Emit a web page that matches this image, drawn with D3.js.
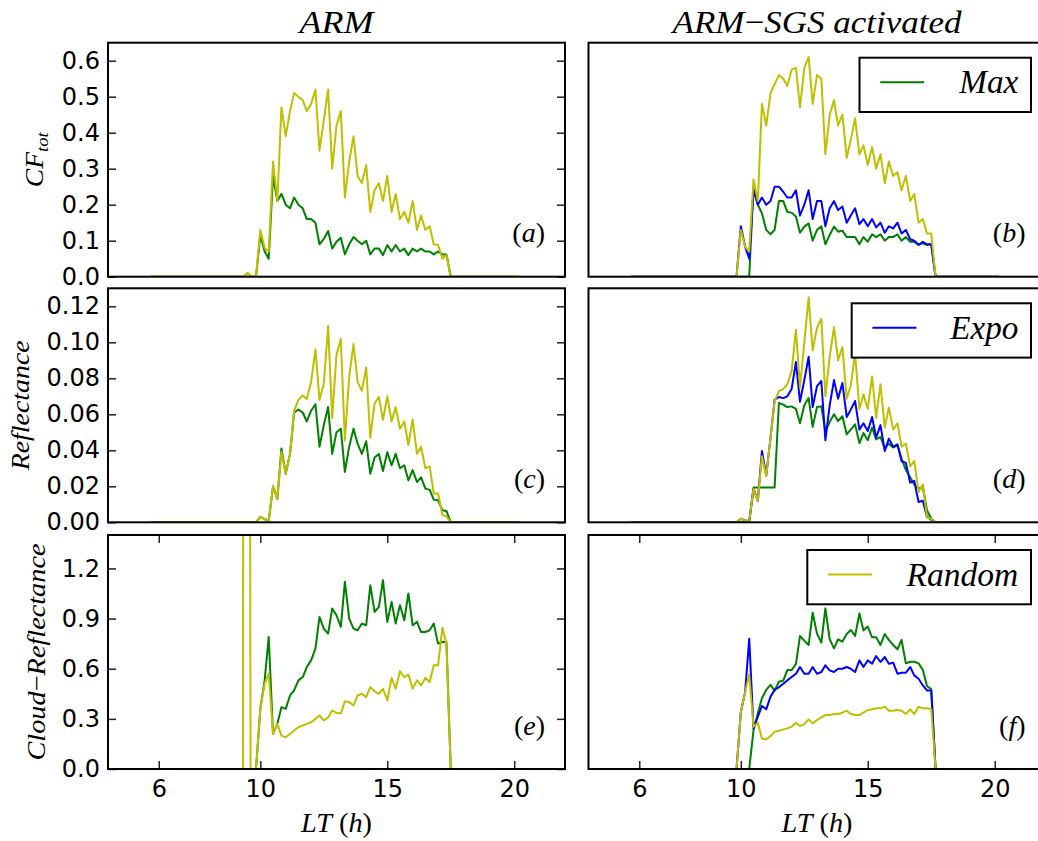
<!DOCTYPE html>
<html>
<head>
<meta charset="utf-8">
<script src="https://cdn.jsdelivr.net/npm/d3@7"></script>
<style>
  body { margin: 0; background: #fff; }
  .math { font-family: "Liberation Serif", serif; fill: #000; }
</style>
</head>
<body>
<div id="chart-area"></div>
<script>
// local time (h): 5:40, then every 10 min from 9:00 to 18:00, then 20:10
const lt = [5.67,
  9.00, 9.17, 9.33, 9.50, 9.67, 9.83,
  10.00, 10.17, 10.33, 10.50, 10.67, 10.83,
  11.00, 11.17, 11.33, 11.50, 11.67, 11.83,
  12.00, 12.17, 12.33, 12.50, 12.67, 12.83,
  13.00, 13.17, 13.33, 13.50, 13.67, 13.83,
  14.00, 14.17, 14.33, 14.50, 14.67, 14.83,
  15.00, 15.17, 15.33, 15.50, 15.67, 15.83,
  16.00, 16.17, 16.33, 16.50, 16.67, 16.83,
  17.00, 17.17, 17.33, 17.50, 17.67, 17.83,
  18.00,
  20.17];

// ---- total cloud fraction ----
const armMaxCF = [0,
  0, 0, 0, 0, 0, 0,
  0.115, 0.07, 0.05, 0.28, 0.21, 0.23,
  0.20, 0.19, 0.22, 0.20, 0.19, 0.16,
  0.16, 0.15, 0.09, 0.105, 0.127, 0.078,
  0.097, 0.108, 0.062, 0.09, 0.11, 0.10,
  0.09, 0.10, 0.062, 0.078, 0.078, 0.06,
  0.088, 0.07, 0.088, 0.07, 0.078, 0.06,
  0.078, 0.07, 0.078, 0.07, 0.07, 0.062,
  0.07, 0.062, 0.062, 0, 0, 0,
  0,
  0];
const armRandomCF = [0,
  0, 0, 0, 0.011, 0, 0,
  0.13, 0.08, 0.07, 0.32, 0.21, 0.47,
  0.39, 0.46, 0.51, 0.50, 0.49, 0.46,
  0.48, 0.52, 0.35, 0.435, 0.52, 0.30,
  0.42, 0.46, 0.22, 0.32, 0.39, 0.28,
  0.26, 0.31, 0.18, 0.24, 0.26, 0.21,
  0.28, 0.18, 0.23, 0.16, 0.18, 0.15,
  0.21, 0.13, 0.17, 0.13, 0.14, 0.09,
  0.088, 0.05, 0.06, 0, 0, 0,
  0,
  0];
const sgsMaxCF = [0,
  0, 0, 0, 0, 0, 0,
  0, 0, 0, 0.25, 0.20, 0.176,
  0.13, 0.118, 0.13, 0.21, 0.21, 0.18,
  0.178, 0.167, 0.122, 0.139, 0.148, 0.10,
  0.13, 0.14, 0.09, 0.116, 0.139, 0.125,
  0.128, 0.11, 0.11, 0.11, 0.09, 0.11,
  0.097, 0.118, 0.11, 0.118, 0.10, 0.11,
  0.11, 0.118, 0.10, 0.11, 0.097, 0.097,
  0.09, 0.093, 0.088, 0.09, 0, 0,
  0,
  0];
const sgsExpoCF = [0,
  0, 0, 0, 0, 0, 0,
  0.14, 0.083, 0.05, 0.24, 0.20, 0.22,
  0.20, 0.21, 0.25, 0.25, 0.236, 0.22,
  0.22, 0.24, 0.17, 0.20, 0.24, 0.16,
  0.21, 0.21, 0.14, 0.19, 0.21, 0.185,
  0.195, 0.15, 0.17, 0.19, 0.146, 0.16,
  0.14, 0.16, 0.137, 0.15, 0.122, 0.14,
  0.134, 0.15, 0.12, 0.13, 0.104, 0.10,
  0.088, 0.097, 0.09, 0.09, 0, 0,
  0,
  0];
const sgsRandomCF = [0,
  0, 0, 0, 0, 0, 0,
  0.13, 0.083, 0.07, 0.27, 0.21, 0.48,
  0.42, 0.51, 0.535, 0.56, 0.55, 0.53,
  0.575, 0.58, 0.47, 0.58, 0.61, 0.48,
  0.56, 0.55, 0.34, 0.45, 0.49, 0.42,
  0.45, 0.33, 0.38, 0.44, 0.34, 0.365,
  0.31, 0.36, 0.30, 0.34, 0.26, 0.32,
  0.28, 0.29, 0.24, 0.28, 0.21, 0.23,
  0.15, 0.16, 0.12, 0.12, 0, 0,
  0,
  0];

// ---- reflectance ----
const armMaxRef = [0,
  0, 0, 0, 0, 0, 0,
  0.003, 0.0017, 0.001, 0.020, 0.013, 0.041,
  0.027, 0.038, 0.061, 0.0626, 0.061, 0.056,
  0.062, 0.0656, 0.042, 0.054, 0.064, 0.038,
  0.050, 0.052, 0.028, 0.042, 0.052, 0.0437,
  0.038, 0.045, 0.027, 0.036, 0.038, 0.0285,
  0.039, 0.0317, 0.038, 0.030, 0.0317, 0.0233,
  0.029, 0.0224, 0.025, 0.0187, 0.018, 0.0126,
  0.0122, 0.0067, 0.0063, 0, 0, 0,
  0,
  0];
const armRandomRef = [0,
  0, 0, 0, 0, 0, 0,
  0.003, 0.0017, 0.001, 0.020, 0.013, 0.039,
  0.027, 0.038, 0.062, 0.068, 0.0705, 0.0685,
  0.078, 0.096, 0.068, 0.077, 0.109, 0.058,
  0.093, 0.102, 0.0455, 0.081, 0.099, 0.078,
  0.073, 0.086, 0.047, 0.066, 0.0696, 0.057,
  0.070, 0.056, 0.064, 0.052, 0.056, 0.043,
  0.057, 0.038, 0.042, 0.030, 0.031, 0.016,
  0.016, 0.004, 0.0033, 0, 0, 0,
  0,
  0];
const sgsMaxRef = [0,
  0, 0, 0, 0, 0, 0,
  0, 0, 0, 0.0193, 0.0193, 0.0193,
  0.0193, 0.0193, 0.0193, 0.0663, 0.0654, 0.064,
  0.0644, 0.063, 0.055, 0.065, 0.069, 0.053,
  0.064, 0.0644, 0.0507, 0.0557, 0.060, 0.0563,
  0.0589, 0.0489, 0.0515, 0.0544, 0.044, 0.0496,
  0.0456, 0.0526, 0.046, 0.0474, 0.041, 0.0437,
  0.0415, 0.0428, 0.0354, 0.029, 0.025, 0.021,
  0.0187, 0.0196, 0.0067, 0.002, 0, 0,
  0,
  0];
const sgsExpoRef = [0,
  0, 0, 0, 0, 0, 0,
  0.002, 0.001, 0.0007, 0.0187, 0.012, 0.0396,
  0.026, 0.047, 0.068, 0.0696, 0.069, 0.070,
  0.074, 0.089, 0.067, 0.079, 0.092, 0.064,
  0.0756, 0.0785, 0.0456, 0.065, 0.079, 0.0687,
  0.0774, 0.0585, 0.0626, 0.0674, 0.0515, 0.055,
  0.0507, 0.0585, 0.047, 0.054, 0.0396, 0.0465,
  0.042, 0.0433, 0.034, 0.033, 0.022, 0.023,
  0.0113, 0.012, 0.003, 0.0015, 0, 0,
  0,
  0];
const sgsRandomRef = [0,
  0, 0, 0, 0, 0, 0,
  0.002, 0.001, 0.0007, 0.0187, 0.012, 0.0367,
  0.0256, 0.047, 0.067, 0.073, 0.074, 0.0767,
  0.084, 0.107, 0.075, 0.10, 0.125, 0.0956,
  0.108, 0.113, 0.070, 0.092, 0.1085, 0.090,
  0.0974, 0.0687, 0.076, 0.0937, 0.063, 0.071,
  0.063, 0.081, 0.058, 0.0767, 0.0526, 0.0637,
  0.0515, 0.055, 0.042, 0.0437, 0.031, 0.034,
  0.0169, 0.021, 0.0026, 0.002, 0, 0,
  0,
  0];

// ---- cloud reflectance (undefined when no cloud) ----
const armMaxCR = [null,
  null, null, null, null, null, 0,
  0.36, 0.53, 0.79, 0.21, 0.27, 0.37,
  0.36, 0.44, 0.47, 0.53, 0.55, 0.61,
  0.65, 0.72, 0.91, 0.84, 0.81, 0.96,
  0.92, 0.85, 1.12, 0.90, 0.84, 0.83,
  0.87, 0.86, 1.10, 0.94, 0.97, 1.13,
  0.88, 1.00, 0.87, 0.98, 0.89, 1.05,
  0.86, 0.88, 0.82, 0.82, 0.83, 0.87,
  0.75, 0.76, 0.76, 0, null, null,
  null,
  null];
const armRandomCR = [null,
  null, -30, 3, 10, -4.7, 0,
  0.36, 0.51, 0.57, 0.21, 0.27, 0.20,
  0.19, 0.21, 0.23, 0.25, 0.26, 0.27,
  0.28, 0.30, 0.32, 0.29, 0.31, 0.35,
  0.335, 0.333, 0.405, 0.40, 0.38, 0.44,
  0.45, 0.43, 0.49, 0.465, 0.45, 0.48,
  0.41, 0.545, 0.48, 0.585, 0.55, 0.565,
  0.48, 0.53, 0.50, 0.545, 0.52, 0.62,
  0.62, 0.845, 0.75, 0, null, null,
  null,
  null];
const sgsMaxCR = [null,
  null, null, null, null, null, null,
  null, null, 0, 0.233, 0.333, 0.423,
  0.473, 0.503, 0.469, 0.522, 0.529, 0.592,
  0.592, 0.628, 0.796, 0.768, 0.742, 0.935,
  0.81, 0.756, 0.961, 0.776, 0.722, 0.776,
  0.762, 0.808, 0.832, 0.796, 0.93, 0.828,
  0.852, 0.788, 0.788, 0.742, 0.808, 0.772,
  0.742, 0.716, 0.772, 0.632, 0.642, 0.642,
  0.632, 0.592, 0.497, 0.477, 0, null,
  null,
  null];
const sgsExpoCR = [null,
  null, null, null, null, null, 0,
  0.34, 0.46, 0.78, 0.243, 0.313, 0.377,
  0.357, 0.433, 0.473, 0.489, 0.51, 0.53,
  0.55, 0.57, 0.61, 0.57, 0.57, 0.61,
  0.57, 0.58, 0.62, 0.59, 0.58, 0.60,
  0.60, 0.61, 0.60, 0.58, 0.65, 0.61,
  0.65, 0.63, 0.676, 0.64, 0.67, 0.63,
  0.636, 0.57, 0.576, 0.576, 0.61, 0.56,
  0.54, 0.50, 0.47, 0.47, 0, null,
  null,
  null];
const sgsRandomCR = [null,
  null, null, null, null, null, 0,
  0.34, 0.46, 0.566, 0.253, 0.277, 0.183,
  0.177, 0.197, 0.223, 0.229, 0.237, 0.243,
  0.253, 0.277, 0.257, 0.269, 0.297, 0.273,
  0.293, 0.309, 0.323, 0.323, 0.329, 0.329,
  0.337, 0.349, 0.329, 0.323, 0.323, 0.337,
  0.353, 0.357, 0.363, 0.363, 0.373, 0.349,
  0.349, 0.353, 0.349, 0.329, 0.357, 0.329,
  0.373, 0.363, 0.363, 0.359, 0, null,
  null,
  null];

const xTicks = [6, 10, 15, 20];
const cfTicks = [0, 0.1, 0.2, 0.3, 0.4, 0.5, 0.6];
const refTicks = [0, 0.02, 0.04, 0.06, 0.08, 0.10, 0.12];
const crTicks = [0, 0.3, 0.6, 0.9, 1.2];

const green = "#008000", blue = "#0000ff", yellow = "#bfbf00";

// layout
const width = 457, height = 234;
const colX = [108, 588.5];
const rowY = [42.7, 288.3, 535];
const tickFont = 24;

const svg = d3.select("#chart-area")
  .append("svg")
    .attr("width", 1038)
    .attr("height", 841)
    .style("background", "#fff");

const x = d3.scaleLinear().domain([4, 22]).range([0, width]);

// italic math text with optional upright pieces
function mathText(sel, parts) {
  parts.forEach(p => {
    sel.append("tspan")
      .text(p[0])
      .style("font-style", p[1] ? "italic" : "normal");
  });
  return sel;
}

// style an axis: inward ticks, no domain line, wide sans labels
function styleAxis(a) {
  a.attr("color", "#222");
  a.select(".domain").remove();
  a.selectAll(".tick line").attr("stroke-width", 1.5);
  a.selectAll(".tick text")
    .style("font-family", "'DejaVu Sans', sans-serif")
    .style("font-size", tickFont + "px")
    .attr("fill", "#000")
    .each(function() {
      const s = this.textContent;
      if (!s) return;
      // advance widths of the Vera/DejaVu digits and point
      const w = s.split("").reduce((acc, c) => acc + (c === "." ? 0.318 : 0.636), 0) * tickFont;
      d3.select(this).attr("textLength", w).attr("lengthAdjust", "spacingAndGlyphs");
    });
}

const panels = [
  {id: "a", col: 0, row: 0, ymax: 0.65, ticks: cfTicks, fmt: d3.format(".1f"),
   series: [[armMaxCF, green], [armRandomCF, yellow]]},
  {id: "b", col: 1, row: 0, ymax: 0.65, ticks: cfTicks, fmt: d3.format(".1f"),
   series: [[sgsMaxCF, green], [sgsExpoCF, blue], [sgsRandomCF, yellow]],
   legend: ["Max", green, 171.5, 59]},
  {id: "c", col: 0, row: 1, ymax: 0.13, ticks: refTicks, fmt: d3.format(".2f"),
   series: [[armMaxRef, green], [armRandomRef, yellow]]},
  {id: "d", col: 1, row: 1, ymax: 0.13, ticks: refTicks, fmt: d3.format(".2f"),
   series: [[sgsMaxRef, green], [sgsExpoRef, blue], [sgsRandomRef, yellow]],
   legend: ["Expo", blue, 179.3, 68]},
  {id: "e", col: 0, row: 2, ymax: 1.4, ticks: crTicks, fmt: d3.format(".1f"),
   series: [[armMaxCR, green], [armRandomCR, yellow]]},
  {id: "f", col: 1, row: 2, ymax: 1.4, ticks: crTicks, fmt: d3.format(".1f"),
   series: [[sgsMaxCR, green], [sgsExpoCR, blue], [sgsRandomCR, yellow]],
   legend: ["Random", yellow, 223.7, 111.7]}
];

panels.forEach(p => {
  const g = svg.append("g")
    .attr("transform", `translate(${colX[p.col]}, ${rowY[p.row]})`);

  const y = d3.scaleLinear().domain([0, p.ymax]).range([height, 0]);

  g.append("clipPath").attr("id", "clip-" + p.id)
    .append("rect").attr("width", width).attr("height", height);

  const line = d3.line()
    .defined(d => d[1] !== null)
    .x(d => x(d[0]))
    .y(d => y(d[1]));

  const plot = g.append("g").attr("clip-path", `url(#clip-${p.id})`);
  p.series.forEach(s => {
    plot.append("path")
      .datum(lt.map((t, i) => [t, s[0][i]]))
      .attr("fill", "none")
      .attr("stroke", s[1])
      .attr("stroke-width", 2)
      .attr("stroke-linejoin", "round")
      .attr("d", line);
  });

  // y ticks only on the left column (inside, both sides)
  if (p.col === 0) {
    g.append("g")
      .call(d3.axisLeft(y).tickValues(p.ticks).tickSize(-8).tickPadding(8).tickFormat(p.fmt))
      .call(styleAxis);
    g.append("g")
      .attr("transform", `translate(${width}, 0)`)
      .call(d3.axisRight(y).tickValues(p.ticks).tickSize(-8).tickFormat(""))
      .call(styleAxis);
  }

  // x ticks only on the bottom row
  if (p.row === 2) {
    g.append("g")
      .attr("transform", `translate(0, ${height})`)
      .call(d3.axisBottom(x).tickValues(xTicks).tickSize(-8).tickPadding(11).tickFormat(d3.format("d")))
      .call(styleAxis);
    g.append("g")
      .call(d3.axisTop(x).tickValues(xTicks).tickSize(-8).tickFormat(""))
      .call(styleAxis);

    mathText(g.append("text").attr("class", "math")
      .attr("x", width / 2).attr("y", 297)
      .attr("text-anchor", "middle")
      .attr("font-size", 27)
      .attr("textLength", 71).attr("lengthAdjust", "spacingAndGlyphs"),
      [["LT", true], [" (", false], ["h", true], [")", false]]);
  }

  g.append("rect")
    .attr("width", width).attr("height", height)
    .attr("fill", "none").attr("stroke", "#000").attr("stroke-width", 2);

  // panel letter
  mathText(g.append("text").attr("class", "math")
    .attr("x", width - 20).attr("y", height - 34.5)
    .attr("text-anchor", "end")
    .attr("font-size", 28),
    [["(", false], [p.id, true], [")", false]]);

  if (p.legend) {
    const [name, color, boxW, textW] = p.legend;
    const lg = g.append("g").attr("transform", `translate(${442.5 - boxW}, 15)`);
    lg.append("rect")
      .attr("width", boxW).attr("height", 54.3)
      .attr("fill", "#fff").attr("stroke", "#000").attr("stroke-width", 2);
    lg.append("line")
      .attr("x1", 20.7).attr("x2", 64.7)
      .attr("y1", 24.5).attr("y2", 24.5)
      .attr("stroke", color).attr("stroke-width", 2);
    lg.append("text").attr("class", "math")
      .attr("x", boxW - 12.7).attr("y", 35.6)
      .attr("text-anchor", "end")
      .attr("font-size", 33)
      .style("font-style", "italic")
      .attr("textLength", textW).attr("lengthAdjust", "spacingAndGlyphs")
      .text(name);
  }
});

// column titles
svg.append("text").attr("class", "math")
  .attr("x", colX[0] + width / 2).attr("y", 32.7)
  .attr("text-anchor", "middle")
  .attr("font-size", 32)
  .style("font-style", "italic")
  .attr("textLength", 74).attr("lengthAdjust", "spacingAndGlyphs")
  .text("ARM");

mathText(svg.append("text").attr("class", "math")
  .attr("x", colX[1] + width / 2).attr("y", 32.7)
  .attr("text-anchor", "middle")
  .attr("font-size", 32)
  .attr("textLength", 289).attr("lengthAdjust", "spacingAndGlyphs"),
  [["ARM", true], ["\u2212", false], ["SGS activated", true]]);

// y labels
const cfLabel = svg.append("text").attr("class", "math")
  .attr("transform", `translate(42.5, ${rowY[0] + height / 2}) rotate(-90)`)
  .attr("text-anchor", "middle")
  .attr("font-size", 25)
  .attr("textLength", 55).attr("lengthAdjust", "spacingAndGlyphs");
cfLabel.append("tspan").style("font-style", "italic").text("CF");
cfLabel.append("tspan").style("font-style", "italic")
  .attr("font-size", 17).attr("dy", 5).text("tot");

svg.append("text").attr("class", "math")
  .attr("transform", `translate(28.5, ${rowY[1] + height / 2}) rotate(-90)`)
  .attr("text-anchor", "middle")
  .attr("font-size", 25)
  .style("font-style", "italic")
  .attr("textLength", 130).attr("lengthAdjust", "spacingAndGlyphs")
  .text("Reflectance");

mathText(svg.append("text").attr("class", "math")
  .attr("transform", `translate(44.5, ${rowY[2] + height / 2}) rotate(-90)`)
  .attr("text-anchor", "middle")
  .attr("font-size", 25)
  .attr("textLength", 217).attr("lengthAdjust", "spacingAndGlyphs"),
  [["Cloud", true], ["\u2212", false], ["Reflectance", true]]);
</script>
</body>
</html>
